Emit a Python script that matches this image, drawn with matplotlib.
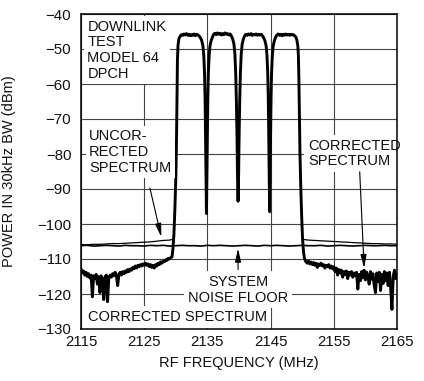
import numpy as np
import matplotlib
matplotlib.use("Agg")
import matplotlib.pyplot as plt

plt.rcParams["font.family"] = ["Liberation Sans", "DejaVu Sans"]

# ---- axis ticks ----
x_ticks = [2115, 2125, 2135, 2145, 2155, 2165]
y_ticks = [-130, -120, -110, -100, -90, -80, -70, -60, -50, -40]

# ---- corrected spectrum, lower band skirt (2115.0 .. 2129.4 MHz, 0.2 MHz bins) ----
corr_low_dbm = [
    -112.8, -114.0, -113.4, -114.6, -113.8, -115.0, -114.2, -115.4, -114.6, -120.8,
    -114.8, -115.6, -114.4, -117.2, -115.0, -119.6, -114.8, -115.8, -121.6, -115.2,
    -114.6, -122.2, -115.4, -114.6, -115.2, -114.2, -114.8, -113.8, -114.6, -117.6,
    -114.4, -113.8, -114.6, -113.6, -114.2, -113.4, -113.8, -113.0, -113.6, -112.8,
    -113.2, -112.4, -112.8, -112.0, -112.6, -111.8, -112.2, -111.6, -112.0, -111.4,
    -111.8, -111.2, -111.8, -111.4, -112.2, -111.6, -112.4, -111.8, -112.6, -111.6,
    -112.0, -111.2, -111.6, -110.8, -111.2, -110.6, -110.8, -110.2, -110.4, -109.8,
    -110.0, -109.6, -109.4,
]
corr_low_mhz = np.linspace(2115.0, 2129.4, len(corr_low_dbm))

# ---- four-carrier downlink signal (2129.55 .. 2150.5 MHz) ----
band_mhz = [
    2129.55, 2129.7, 2129.85, 2130.0, 2130.12, 2130.2, 2130.26, 2130.35, 2130.5, 2130.7,
    2130.9, 2131.1, 2131.3, 2131.5, 2131.7, 2131.9, 2132.1, 2132.3, 2132.5, 2132.7,
    2132.9, 2133.1, 2133.3, 2133.5, 2133.7, 2133.9,
    2134.1, 2134.3, 2134.43, 2134.55, 2134.64, 2134.72, 2134.78, 2134.85, 2134.92, 2134.98,
    2135.06, 2135.15, 2135.27, 2135.4, 2135.6, 2135.8,
    2136.0, 2136.2, 2136.4, 2136.6, 2136.8, 2137.0, 2137.2, 2137.4, 2137.6, 2137.8,
    2138.0, 2138.2, 2138.4, 2138.6, 2138.8,
    2139.0, 2139.2, 2139.35, 2139.48, 2139.6, 2139.7, 2139.76, 2139.85, 2139.94, 2140.0,
    2140.1, 2140.22, 2140.35, 2140.5, 2140.7,
    2140.9, 2141.1, 2141.3, 2141.5, 2141.7, 2141.9, 2142.1, 2142.3, 2142.5, 2142.7,
    2142.9, 2143.1, 2143.3, 2143.5, 2143.7, 2143.9,
    2144.1, 2144.3, 2144.43, 2144.55, 2144.64, 2144.72, 2144.78, 2144.85, 2144.92, 2144.98,
    2145.06, 2145.15, 2145.27, 2145.4, 2145.6, 2145.8,
    2146.0, 2146.2, 2146.4, 2146.6, 2146.8, 2147.0, 2147.2, 2147.4, 2147.6, 2147.8,
    2148.0, 2148.2, 2148.4, 2148.6, 2148.8,
    2149.0, 2149.15, 2149.3, 2149.4, 2149.47, 2149.55, 2149.65, 2149.78, 2149.92, 2150.05,
    2150.2, 2150.35, 2150.5,
]
band_dbm = [
    -107.0, -103.0, -96.0, -87.0, -75.0, -62.0, -53.0, -49.0, -47.0, -46.3,
    -45.9, -46.1, -45.7, -46.0, -45.6, -46.1, -45.8, -46.2, -45.9, -46.1,
    -45.7, -46.2, -45.8, -46.0, -46.3, -46.8,
    -47.6, -49.2, -52.0, -57.0, -65.0, -76.0, -86.0, -97.0, -86.0, -76.0,
    -65.0, -57.0, -52.0, -49.2, -47.6, -46.6,
    -45.8, -45.5, -45.9, -45.4, -45.8, -45.5, -46.0, -45.6, -45.9, -45.4,
    -45.8, -45.6, -46.0, -45.7, -46.3,
    -47.1, -48.6, -51.5, -57.0, -66.0, -77.0, -86.0, -93.5, -86.0, -77.0,
    -66.0, -57.0, -51.5, -48.6, -47.1,
    -46.2, -45.8, -46.1, -45.7, -46.0, -45.6, -46.1, -45.8, -46.0, -45.7,
    -46.1, -45.8, -46.0, -45.8, -46.2, -46.8,
    -47.6, -49.2, -52.0, -57.0, -65.0, -76.0, -86.0, -96.5, -86.0, -76.0,
    -65.0, -57.0, -52.0, -49.2, -47.6, -46.6,
    -46.0, -45.7, -46.1, -45.8, -46.2, -45.8, -46.1, -45.7, -46.0, -45.8,
    -46.1, -45.8, -46.0, -45.9, -46.2,
    -46.6, -47.4, -49.0, -52.0, -58.0, -68.0, -80.0, -90.0, -98.0, -104.0,
    -107.8, -109.8, -110.5,
]

# ---- corrected spectrum, upper band skirt (2150.6 .. 2165.0 MHz, 0.2 MHz bins) ----
corr_high_dbm = [
    -110.8, -111.2, -110.6, -111.4, -110.9, -111.6, -111.0, -111.8, -111.2, -112.4,
    -111.4, -111.8, -111.2, -112.0, -111.6, -112.6, -111.8, -112.2, -111.6, -112.6,
    -112.0, -112.8, -112.2, -113.6, -112.6, -114.6, -113.0, -114.0, -113.2, -115.2,
    -113.6, -114.4, -113.4, -115.6, -113.8, -114.6, -113.6, -115.2, -114.0, -114.8,
    -113.8, -118.6, -114.4, -116.2, -113.6, -115.4, -113.2, -116.0, -113.8, -115.0,
    -117.2, -113.6, -115.8, -114.2, -117.6, -119.6, -114.0, -116.4, -113.8, -119.0,
    -114.4, -117.0, -113.6, -116.2, -114.0, -117.6, -113.8, -118.2, -124.4, -115.0,
    -113.2, -115.6, -114.4,
]
corr_high_mhz = np.linspace(2150.6, 2165.0, len(corr_high_dbm))

# ---- uncorrected spectrum (outside the carriers) ----
uncorr_low_mhz = [2115, 2116, 2117, 2118, 2119, 2120, 2121, 2122, 2123, 2124,
                  2125, 2126, 2127, 2128, 2129, 2129.7]
uncorr_low_dbm = [-105.9, -105.9, -105.8, -105.8, -105.7, -105.6, -105.6, -105.5, -105.4, -105.3,
                  -105.2, -105.1, -104.9, -104.7, -104.6, -104.3]
uncorr_high_mhz = [2150.1, 2151, 2152, 2153, 2154, 2155, 2156, 2157, 2158, 2159,
                   2160, 2161, 2162, 2163, 2164, 2165]
uncorr_high_dbm = [-104.4, -104.6, -104.7, -104.8, -104.9, -105.0, -105.1, -105.2, -105.3, -105.4,
                   -105.5, -105.6, -105.6, -105.7, -105.7, -105.8]

# ---- system noise floor (1 MHz steps, 2115 .. 2165) ----
floor_dbm = [
    -106.2, -106.1, -106.3, -106.2, -106.1, -106.2, -106.3, -106.1, -106.2, -106.2,
    -106.3, -106.1, -106.2, -106.1, -106.3, -106.2, -106.1, -106.2, -106.2, -106.3,
    -106.1, -106.2, -106.1, -106.2, -106.3, -106.2, -106.1, -106.2, -106.3, -106.1,
    -106.2, -106.1, -106.2, -106.3, -106.2, -106.1, -106.2, -106.2, -106.1, -106.3,
    -106.2, -106.1, -106.2, -106.3, -106.2, -106.1, -106.2, -106.2, -106.1, -106.2,
    -106.2,
]
floor_mhz = np.linspace(2115, 2165, len(floor_dbm))

corr_mhz = np.concatenate([corr_low_mhz, band_mhz, corr_high_mhz])
corr_dbm = np.concatenate([corr_low_dbm, band_dbm, corr_high_dbm])

# ---- figure ----
W, H = 424, 381
fig = plt.figure(figsize=(W / 100, H / 100), dpi=100)
ax = fig.add_axes([81 / W, 1 - 329 / H, 316 / W, 315 / H])

ax.set_xlim(2115, 2165)
ax.set_ylim(-130, -40)
ax.set_xticks(x_ticks)
ax.set_yticks(y_ticks)
ax.set_yticklabels([f"\u2212{abs(v)}" for v in y_ticks])
ax.tick_params(axis="both", length=0, labelsize=10.8, colors="#111111")
ax.tick_params(axis="x", pad=4)
ax.tick_params(axis="y", pad=7)
ax.grid(True, color="#444444", linewidth=0.8)
ax.set_axisbelow(True)
for sp in ax.spines.values():
    sp.set_linewidth(1.1)
    sp.set_zorder(6)

ax.set_xlabel("RF FREQUENCY (MHz)", fontsize=10.5, color="#111111")
ax.set_ylabel("POWER IN 30kHz BW (dBm)", fontsize=10.5, color="#111111")
ax.xaxis.set_label_coords(0.5, -0.085)
ax.yaxis.set_label_coords(-0.205, 0.5)

# traces
ax.plot(floor_mhz, floor_dbm, color="black", linewidth=1.2, zorder=3)
ax.plot(uncorr_low_mhz, uncorr_low_dbm, color="black", linewidth=0.9, zorder=3)
ax.plot(uncorr_high_mhz, uncorr_high_dbm, color="black", linewidth=0.9, zorder=3)
ax.plot(corr_mhz, corr_dbm, color="black", linewidth=2.1, zorder=4,
        solid_joinstyle="round")

# annotations
box = dict(boxstyle="square,pad=0.25", facecolor="white", edgecolor="none")
txt = dict(fontsize=10.5, color="#111111", zorder=5, bbox=box, linespacing=1.15)

ax.text(2116.0, -41.6, "DOWNLINK\nTEST\nMODEL 64\nDPCH", ha="left", va="top", **txt)
ax.text(2116.3, -73.0, "UNCOR-\nRECTED\nSPECTRUM", ha="left", va="top", **txt)
ax.text(2150.9, -75.6, "CORRECTED\nSPECTRUM", ha="left", va="top", **txt)
ax.text(2139.85, -114.6, "SYSTEM\nNOISE FLOOR", ha="center", va="top", **txt)
ax.text(2116.1, -126.6, "CORRECTED SPECTRUM", ha="left", va="center", **txt)

arrow = dict(arrowstyle="-|>,head_length=0.8,head_width=0.18", color="black",
             linewidth=0.8, mutation_scale=10, shrinkA=0, shrinkB=0)
ax.annotate("", xy=(2127.7, -103.7), xytext=(2125.9, -89.7), arrowprops=arrow, zorder=5)
ax.annotate("", xy=(2159.8, -112.6), xytext=(2159.1, -85.1), arrowprops=arrow, zorder=5)
ax.annotate("", xy=(2139.85, -107.0), xytext=(2139.85, -113.0), arrowprops=arrow, zorder=5)

fig.savefig("out.png", dpi=100)
